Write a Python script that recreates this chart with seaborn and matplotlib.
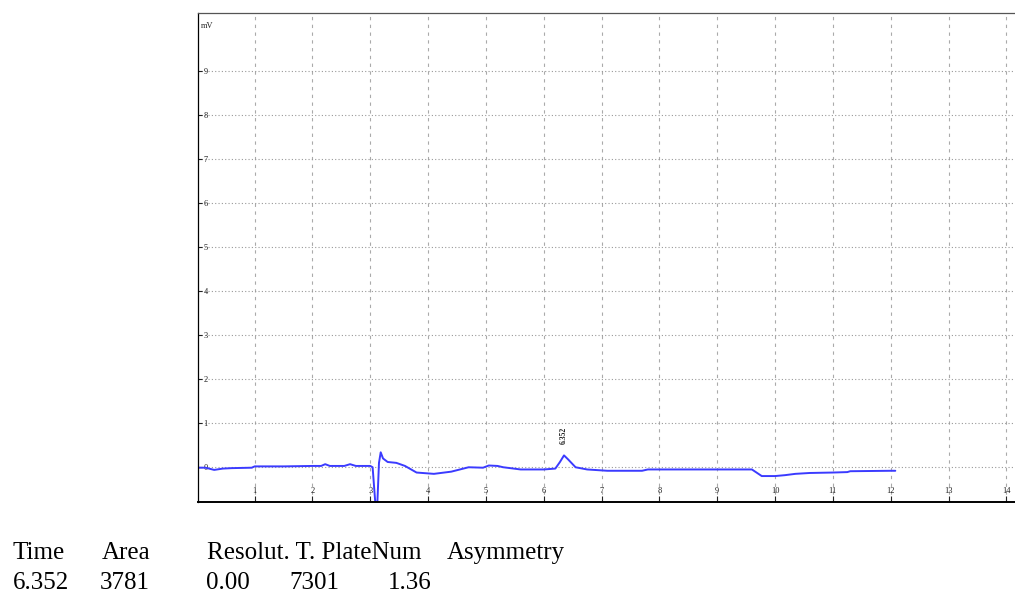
import matplotlib
matplotlib.use("Agg")
import matplotlib.pyplot as plt
import seaborn as sns
import pandas as pd

# ---- data ----
time_min = [0.0, 0.15, 0.3, 0.45, 0.6, 0.95, 1.0, 1.5, 2.0, 2.15, 2.22, 2.3, 2.55, 2.65, 2.75,
            3.0, 3.04, 3.08, 3.11, 3.15, 3.18, 3.22, 3.3, 3.45, 3.6, 3.8, 4.1, 4.4, 4.7,
            4.95, 5.05, 5.2, 5.3, 5.6, 6.0, 6.2, 6.28, 6.35, 6.42, 6.55, 6.75, 7.1,
            7.7, 7.8, 8.5, 9.0, 9.6, 9.77, 10.0, 10.17, 10.35, 10.6, 11.0, 11.25, 11.3,
            12.0, 12.08]
signal_mv = [-0.01, -0.01, -0.06, -0.03, -0.02, -0.01, 0.02, 0.02, 0.03, 0.03, 0.07, 0.03, 0.03, 0.07, 0.03,
             0.03, 0.0, -0.7, -1.2, 0.1, 0.34, 0.2, 0.12, 0.1, 0.03, -0.12, -0.15, -0.1, 0.0,
             -0.01, 0.04, 0.03, 0.0, -0.05, -0.05, -0.03, 0.12, 0.27, 0.18, 0.0, -0.05, -0.08,
             -0.08, -0.05, -0.05, -0.05, -0.05, -0.2, -0.2, -0.18, -0.15, -0.13, -0.12, -0.11, -0.09,
             -0.08, -0.08]
peak_time = 6.352
peak_label = "6.352"
x_ticks = list(range(1, 15))
y_ticks = list(range(0, 10))
y_unit = "mV"

table_header = ["Time", "Area", "Resolut. T. PlateNum", "Asymmetry"]
table_values = ["6.352", "3781", "0.00", "7301", "1.36"]

df = pd.DataFrame({"t": time_min, "mv": signal_mv})

sns.set_theme(style="white")
fig = plt.figure(figsize=(10.15, 5.97), dpi=100)
ax = fig.add_axes([198 / 1015, 1 - 502 / 597, (1015 - 198) / 1015, (502 - 13) / 597])

sns.lineplot(data=df, x="t", y="mv", ax=ax, color="#3b3bff", linewidth=1.4,
             estimator=None, sort=False)

ax.set_xlim(0.02, 14.15)
ax.set_ylim(-0.79, 10.33)
ax.set_xlabel("")
ax.set_ylabel("")

# grid
for xv in x_ticks:
    ax.axvline(xv, color="#aaaaaa", linestyle=(0, (3, 4)), linewidth=0.8, zorder=0)
for yv in y_ticks:
    ax.axhline(yv, color="#999999", linestyle=(0, (1, 2)), linewidth=0.8, zorder=0)

ax.set_xticks(x_ticks)
ax.set_xticklabels([str(v) for v in x_ticks], family="Liberation Serif")
ax.set_yticks(y_ticks)
ax.set_yticklabels([str(v) for v in y_ticks], family="Liberation Serif")
ax.tick_params(axis="x", direction="in", length=4, width=0.8, labelsize=6, pad=-10.5,
               bottom=True, colors="#222222")
ax.tick_params(axis="y", direction="in", length=3, width=0.8, labelsize=6, pad=-4,
               left=True, colors="#222222")
for lab in ax.get_yticklabels():
    lab.set_horizontalalignment("left")

for side in ["left", "bottom"]:
    ax.spines[side].set_color("black")
ax.spines["left"].set_linewidth(0.9)
ax.spines["bottom"].set_linewidth(1.4)
ax.spines["top"].set_color("#555555")
ax.spines["top"].set_linewidth(0.9)
ax.spines["right"].set_visible(False)

ax.text(0.004, 0.982, y_unit, transform=ax.transAxes, fontsize=6, va="top", ha="left",
        family="Liberation Serif", color="#222222")

peak_idx = time_min.index(6.35)
ax.text(peak_time, signal_mv[peak_idx] + 0.25, peak_label, rotation=90, fontsize=5.5,
        fontweight="bold", ha="center", va="bottom", family="Liberation Serif", color="#222222")

# results table below the chart
hdr_x = [12.7, 101.7, 207.3, 446.7]
val_x = [12.7, 99.3, 206.0, 289.3, 388.3]
for s, px in zip(table_header, hdr_x):
    fig.text(px / 1015, 1 - 559.3 / 597, s, fontsize=18, family="Liberation Serif",
             ha="left", va="baseline", color="black")
for s, px in zip(table_values, val_x):
    fig.text(px / 1015, 1 - 589.3 / 597, s, fontsize=18, family="Liberation Serif",
             ha="left", va="baseline", color="black")

fig.savefig("out.png", dpi=100)
